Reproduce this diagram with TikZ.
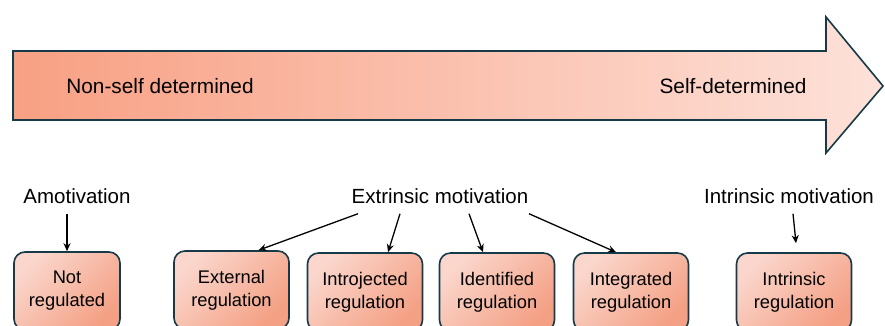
\documentclass[tikz,border=0pt]{standalone}
\usepackage{fontspec}
\setmainfont{Liberation Sans}
\usetikzlibrary{positioning, arrows.meta, calc}
\definecolor{sdtdark}{HTML}{163A48}
\definecolor{sdtleft}{HTML}{F8A083}
\definecolor{sdtright}{HTML}{FDE1D9}
\definecolor{boxlight}{HTML}{FAD6CC}
\definecolor{boxdeep}{HTML}{F4A084}

\begin{document}
\begin{tikzpicture}[x=1pt, y=-1pt,
    regbox/.style={draw=sdtdark, line width=1.6pt, rounded corners=11pt,
      top color=boxlight, bottom color=boxdeep, shading angle=45,
      minimum height=78pt, text width=104pt, align=center,
      font=\fontsize{18.3}{23}\selectfont},
    typelabel/.style={inner sep=0pt, font=\fontsize{20.5}{24}\selectfont},
    conn/.style={-{Stealth[length=8pt, width=7pt]}, line width=1.3pt}]
  \clip (0,0) rectangle (885,325);
  % continuum arrow
  \shade[left color=sdtleft, right color=sdtright, draw=sdtdark, line width=1.6pt]
    (13,51) -- (826,51) -- (826,17) -- (883,86) -- (826,153) -- (826,120)
    -- (13,120) -- cycle;
  \node[typelabel, font=\fontsize{20.8}{24}\selectfont] (nonself) at (160,86) {Non-self determined};
  \node[typelabel, font=\fontsize{20.8}{24}\selectfont] (self) at (733,86) {Self-determined};

  % motivation types
  \node[typelabel] (amot) at (77,196) {Amotivation};
  \node[typelabel] (extr) at (440,196) {Extrinsic motivation};
  \node[typelabel] (intr) at (789,196) {Intrinsic motivation};

  % regulation boxes
  \node[regbox, minimum width=106pt, text width=96pt] (notreg) at (67,291) {Not\\regulated};
  \foreach \nm/\x/\y/\txt in {extreg/231.5/290/{External\\regulation},
      introreg/365/292/{Introjected\\regulation},
      identreg/497/292/{Identified\\regulation},
      integreg/631/292/{Integrated\\regulation},
      intrreg/794/292/{Intrinsic\\regulation}} {
    \node[regbox, minimum width=115pt] (\nm) at (\x,\y) {\txt};
  }

  \draw[conn] ([xshift=-10pt, yshift=-10pt]amot.south) -- (notreg.north);
  \draw[conn] ([xshift=-82pt, yshift=-10pt]extr.south) -- ([xshift=27pt]extreg.north);
  \draw[conn] ([xshift=-40pt, yshift=-10pt]extr.south) -- ([xshift=23pt]introreg.north);
  \draw[conn] ([xshift=29pt, yshift=-10pt]extr.south) -- ([xshift=-14pt]identreg.north);
  \draw[conn] ([xshift=89pt, yshift=-10pt]extr.south) -- ([xshift=-15pt]integreg.north);
  \draw[conn] ([xshift=4pt, yshift=-10pt]intr.south) -- ([xshift=2pt, yshift=9pt]intrreg.north);
\end{tikzpicture}
\end{document}
